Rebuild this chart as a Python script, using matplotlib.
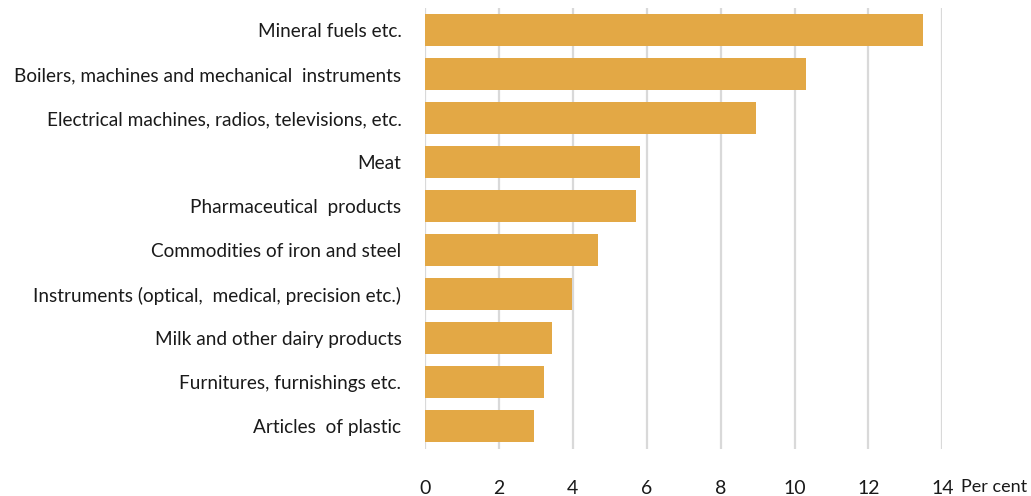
import matplotlib
matplotlib.use("Agg")
import matplotlib.pyplot as plt

categories = [
    "Mineral fuels etc.",
    "Boilers, machines and mechanical  instruments",
    "Electrical machines, radios, televisions, etc.",
    "Meat",
    "Pharmaceutical  products",
    "Commodities of iron and steel",
    "Instruments (optical,  medical, precision etc.)",
    "Milk and other dairy products",
    "Furnitures, furnishings etc.",
    "Articles  of plastic",
]
values = [13.48, 10.30, 8.95, 5.82, 5.71, 4.68, 3.98, 3.45, 3.22, 2.95]
xticks = [0, 2, 4, 6, 8, 10, 12, 14]

plt.rcParams['font.family'] = ['Lato', 'DejaVu Sans']

fig = plt.figure(figsize=(10.31, 4.96), dpi=100)
W, H = 1031, 496
ax = fig.add_axes([425 / W, 1 - 449 / H, (942.3 - 425) / W, (449 - 8) / H])

y = list(range(len(categories)))
ax.barh(y, values, height=0.72, color="#E3A845", zorder=3)
ax.set_ylim(len(categories) - 0.5 + 0.02, -0.5)
ax.set_xlim(0, 14)
ax.set_xticks(xticks)
ax.set_xticklabels([str(t) for t in xticks], fontsize=14, color="#1a1a1a")
ax.tick_params(axis="x", length=0, pad=22)
ax.set_yticks(y)
ax.set_yticklabels(categories, fontsize=13.7, color="#1a1a1a")
ax.tick_params(axis="y", length=0, pad=17)
ax.grid(axis="x", color="#D9D9D9", linewidth=1.6, zorder=0)
ax.grid(axis="y", visible=False)
for s in ax.spines.values():
    s.set_visible(False)

fig.text(961 / W, 1 - 487 / H, "Per cent", fontsize=13, color="#1a1a1a",
         ha="left", va="center")

fig.savefig("out.png", dpi=100)
